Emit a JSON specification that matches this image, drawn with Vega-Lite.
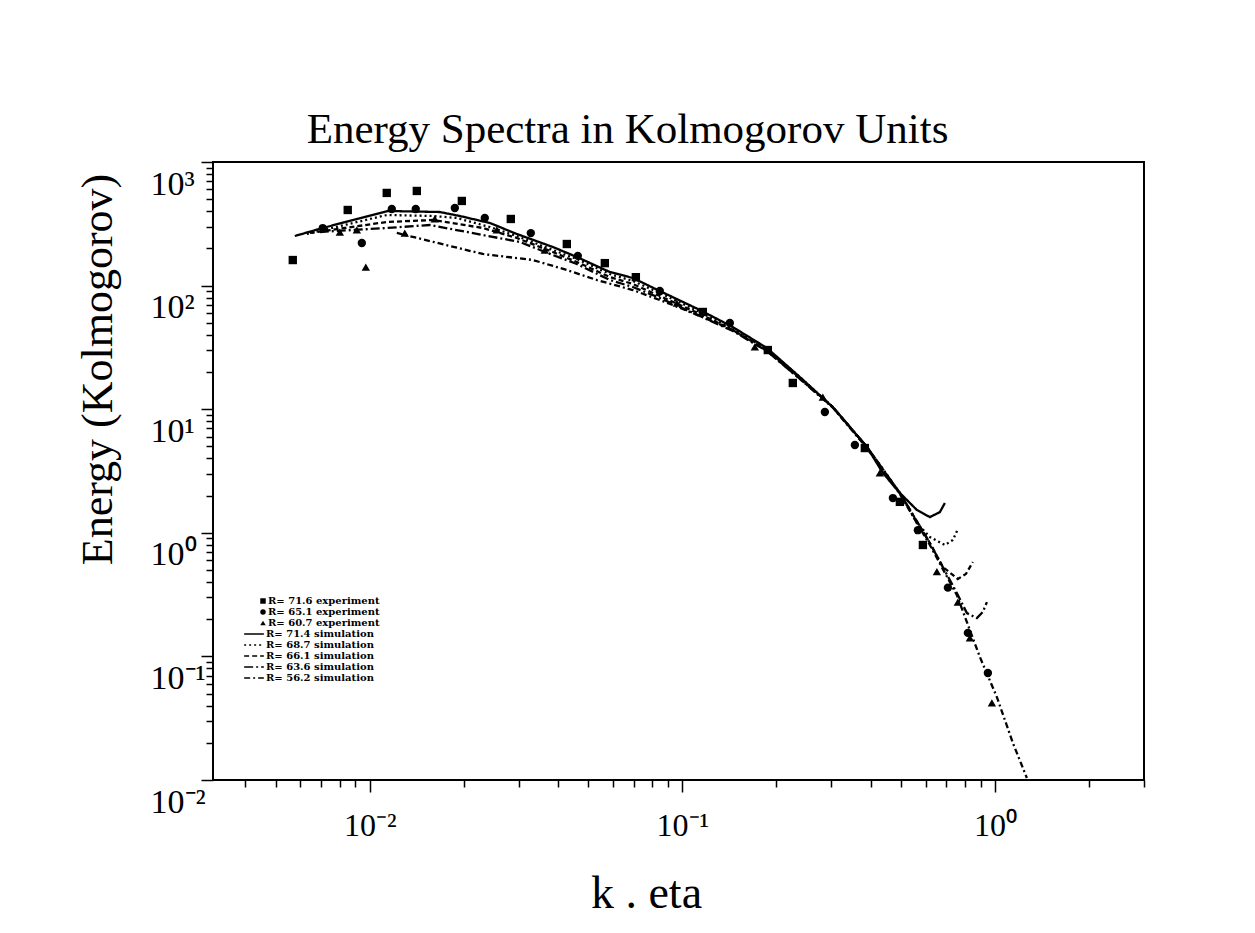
{
  "$schema": "https://vega.github.io/schema/vega-lite/v6.json",
  "width": 931,
  "height": 618,
  "autosize": {"type": "none"},
  "padding": {"left": 213, "top": 162, "right": 111, "bottom": 153},
  "background": "white",
  "title": {"text": "Energy Spectra in Kolmogorov Units", "font": "Liberation Serif", "fontSize": 43, "fontWeight": "normal", "color": "black", "anchor": "middle", "dx": -51, "offset": 9},
  "config": {
    "view": {"stroke": "black", "strokeWidth": 2},
    "axis": {"grid": false, "domain": false, "tickColor": "black", "tickWidth": 1.5, "labelColor": "black", "labelFont": "Liberation Serif", "labelFontSize": 34, "labelOverlap": false, "labelFlush": false, "labelBound": false, "titleFont": "Liberation Serif", "titleFontWeight": "normal", "titleColor": "black"},
    "legend": {"labelFont": "DejaVu Serif", "labelFontWeight": "bold", "labelFontSize": 10, "labelColor": "black", "padding": 0, "rowPadding": 1, "symbolOpacity": 1}
  },
  "datasets": {
    "sim": [
      {"k": 0.005754, "E": 251.9, "series": "R= 71.4 simulation"},
      {"k": 0.007071, "E": 292.5, "series": "R= 71.4 simulation"},
      {"k": 0.01142, "E": 401.4, "series": "R= 71.4 simulation"},
      {"k": 0.01675, "E": 393.9, "series": "R= 71.4 simulation"},
      {"k": 0.01941, "E": 365.7, "series": "R= 71.4 simulation"},
      {"k": 0.02421, "E": 321.0, "series": "R= 71.4 simulation"},
      {"k": 0.02954, "E": 261.6, "series": "R= 71.4 simulation"},
      {"k": 0.03851, "E": 205.3, "series": "R= 71.4 simulation"},
      {"k": 0.04597, "E": 170.4, "series": "R= 71.4 simulation"},
      {"k": 0.05861, "E": 128.8, "series": "R= 71.4 simulation"},
      {"k": 0.06944, "E": 115.2, "series": "R= 71.4 simulation"},
      {"k": 0.08472, "E": 90.4, "series": "R= 71.4 simulation"},
      {"k": 0.1138, "E": 63.5, "series": "R= 71.4 simulation"},
      {"k": 0.145, "E": 46.2, "series": "R= 71.4 simulation"},
      {"k": 0.1864, "E": 31.3, "series": "R= 71.4 simulation"},
      {"k": 0.2377, "E": 18.2, "series": "R= 71.4 simulation"},
      {"k": 0.303, "E": 10.4, "series": "R= 71.4 simulation"},
      {"k": 0.3895, "E": 4.95, "series": "R= 71.4 simulation"},
      {"k": 0.4381, "E": 3.05, "series": "R= 71.4 simulation"},
      {"k": 0.4966, "E": 2.1, "series": "R= 71.4 simulation"},
      {"k": 0.5629, "E": 1.53, "series": "R= 71.4 simulation"},
      {"k": 0.6194, "E": 1.34, "series": "R= 71.4 simulation"},
      {"k": 0.6668, "E": 1.47, "series": "R= 71.4 simulation"},
      {"k": 0.6918, "E": 1.74, "series": "R= 71.4 simulation"},

      {"k": 0.006287, "E": 261.6, "series": "R= 68.7 simulation"},
      {"k": 0.01133, "E": 372.6, "series": "R= 68.7 simulation"},
      {"k": 0.01591, "E": 365.7, "series": "R= 68.7 simulation"},
      {"k": 0.01898, "E": 352.3, "series": "R= 68.7 simulation"},
      {"k": 0.02421, "E": 298.0, "series": "R= 68.7 simulation"},
      {"k": 0.02954, "E": 251.9, "series": "R= 68.7 simulation"},
      {"k": 0.03851, "E": 194.1, "series": "R= 68.7 simulation"},
      {"k": 0.04597, "E": 164.1, "series": "R= 68.7 simulation"},
      {"k": 0.05861, "E": 124.1, "series": "R= 68.7 simulation"},
      {"k": 0.06944, "E": 109.0, "series": "R= 68.7 simulation"},
      {"k": 0.08472, "E": 87.1, "series": "R= 68.7 simulation"},
      {"k": 0.1138, "E": 61.2, "series": "R= 68.7 simulation"},
      {"k": 0.145, "E": 44.6, "series": "R= 68.7 simulation"},
      {"k": 0.1864, "E": 30.7, "series": "R= 68.7 simulation"},
      {"k": 0.2377, "E": 18.2, "series": "R= 68.7 simulation"},
      {"k": 0.303, "E": 10.4, "series": "R= 68.7 simulation"},
      {"k": 0.3895, "E": 4.95, "series": "R= 68.7 simulation"},
      {"k": 0.4966, "E": 2.1, "series": "R= 68.7 simulation"},
      {"k": 0.5629, "E": 1.2, "series": "R= 68.7 simulation"},
      {"k": 0.6194, "E": 0.925, "series": "R= 68.7 simulation"},
      {"k": 0.6918, "E": 0.797, "series": "R= 68.7 simulation"},
      {"k": 0.7337, "E": 0.874, "series": "R= 68.7 simulation"},
      {"k": 0.7611, "E": 1.07, "series": "R= 68.7 simulation"},

      {"k": 0.006427, "E": 266.5, "series": "R= 66.1 simulation"},
      {"k": 0.01133, "E": 327.0, "series": "R= 66.1 simulation"},
      {"k": 0.01591, "E": 339.4, "series": "R= 66.1 simulation"},
      {"k": 0.02299, "E": 292.5, "series": "R= 66.1 simulation"},
      {"k": 0.02954, "E": 242.7, "series": "R= 66.1 simulation"},
      {"k": 0.03851, "E": 187.0, "series": "R= 66.1 simulation"},
      {"k": 0.04597, "E": 155.2, "series": "R= 66.1 simulation"},
      {"k": 0.05861, "E": 117.4, "series": "R= 66.1 simulation"},
      {"k": 0.06944, "E": 103.0, "series": "R= 66.1 simulation"},
      {"k": 0.08472, "E": 82.4, "series": "R= 66.1 simulation"},
      {"k": 0.1138, "E": 58.9, "series": "R= 66.1 simulation"},
      {"k": 0.145, "E": 43.7, "series": "R= 66.1 simulation"},
      {"k": 0.1864, "E": 30.1, "series": "R= 66.1 simulation"},
      {"k": 0.2377, "E": 17.9, "series": "R= 66.1 simulation"},
      {"k": 0.303, "E": 10.4, "series": "R= 66.1 simulation"},
      {"k": 0.3895, "E": 4.95, "series": "R= 66.1 simulation"},
      {"k": 0.4966, "E": 2.1, "series": "R= 66.1 simulation"},
      {"k": 0.6194, "E": 0.827, "series": "R= 66.1 simulation"},
      {"k": 0.6818, "E": 0.529, "series": "R= 66.1 simulation"},
      {"k": 0.7611, "E": 0.423, "series": "R= 66.1 simulation"},
      {"k": 0.8077, "E": 0.464, "series": "R= 66.1 simulation"},
      {"k": 0.8502, "E": 0.58, "series": "R= 66.1 simulation"},

      {"k": 0.006918, "E": 271.5, "series": "R= 63.6 simulation"},
      {"k": 0.01133, "E": 292.5, "series": "R= 63.6 simulation"},
      {"k": 0.01556, "E": 309.3, "series": "R= 63.6 simulation"},
      {"k": 0.02299, "E": 256.7, "series": "R= 63.6 simulation"},
      {"k": 0.0302, "E": 225.3, "series": "R= 63.6 simulation"},
      {"k": 0.03851, "E": 176.8, "series": "R= 63.6 simulation"},
      {"k": 0.04597, "E": 149.6, "series": "R= 63.6 simulation"},
      {"k": 0.05861, "E": 111.0, "series": "R= 63.6 simulation"},
      {"k": 0.06944, "E": 97.4, "series": "R= 63.6 simulation"},
      {"k": 0.08472, "E": 79.4, "series": "R= 63.6 simulation"},
      {"k": 0.1138, "E": 56.8, "series": "R= 63.6 simulation"},
      {"k": 0.145, "E": 42.9, "series": "R= 63.6 simulation"},
      {"k": 0.1864, "E": 29.6, "series": "R= 63.6 simulation"},
      {"k": 0.2377, "E": 17.6, "series": "R= 63.6 simulation"},
      {"k": 0.303, "E": 10.4, "series": "R= 63.6 simulation"},
      {"k": 0.3895, "E": 4.95, "series": "R= 63.6 simulation"},
      {"k": 0.4966, "E": 2.1, "series": "R= 63.6 simulation"},
      {"k": 0.6194, "E": 0.827, "series": "R= 63.6 simulation"},
      {"k": 0.7555, "E": 0.326, "series": "R= 63.6 simulation"},
      {"k": 0.8137, "E": 0.224, "series": "R= 63.6 simulation"},
      {"k": 0.8758, "E": 0.204, "series": "R= 63.6 simulation"},
      {"k": 0.9154, "E": 0.229, "series": "R= 63.6 simulation"},
      {"k": 0.9428, "E": 0.275, "series": "R= 63.6 simulation"},

      {"k": 0.0122, "E": 266.5, "series": "R= 56.2 simulation"},
      {"k": 0.02299, "E": 180.2, "series": "R= 56.2 simulation"},
      {"k": 0.03323, "E": 161.2, "series": "R= 56.2 simulation"},
      {"k": 0.0427, "E": 133.7, "series": "R= 56.2 simulation"},
      {"k": 0.05325, "E": 111.0, "series": "R= 56.2 simulation"},
      {"k": 0.06944, "E": 92.1, "series": "R= 56.2 simulation"},
      {"k": 0.09324, "E": 69.7, "series": "R= 56.2 simulation"},
      {"k": 0.1289, "E": 49.8, "series": "R= 56.2 simulation"},
      {"k": 0.145, "E": 43.7, "series": "R= 56.2 simulation"},
      {"k": 0.1864, "E": 29.6, "series": "R= 56.2 simulation"},
      {"k": 0.2377, "E": 17.6, "series": "R= 56.2 simulation"},
      {"k": 0.303, "E": 10.3, "series": "R= 56.2 simulation"},
      {"k": 0.3895, "E": 4.85, "series": "R= 56.2 simulation"},
      {"k": 0.4966, "E": 2.06, "series": "R= 56.2 simulation"},
      {"k": 0.6194, "E": 0.797, "series": "R= 56.2 simulation"},
      {"k": 0.7555, "E": 0.314, "series": "R= 56.2 simulation"},
      {"k": 0.8954, "E": 0.0989, "series": "R= 56.2 simulation"},
      {"k": 1.0148, "E": 0.0469, "series": "R= 56.2 simulation"},
      {"k": 1.142, "E": 0.0199, "series": "R= 56.2 simulation"},
      {"k": 1.266, "E": 0.01038, "series": "R= 56.2 simulation"}
    ],
    "exp": [
      {"k": 0.00567, "E": 161, "series": "R= 71.6 experiment"},
      {"k": 0.0085, "E": 409, "series": "R= 71.6 experiment"},
      {"k": 0.01133, "E": 562, "series": "R= 71.6 experiment"},
      {"k": 0.01414, "E": 583, "series": "R= 71.6 experiment"},
      {"k": 0.0197, "E": 484, "series": "R= 71.6 experiment"},
      {"k": 0.02826, "E": 346, "series": "R= 71.6 experiment"},
      {"k": 0.0427, "E": 217, "series": "R= 71.6 experiment"},
      {"k": 0.0565, "E": 152, "series": "R= 71.6 experiment"},
      {"k": 0.071, "E": 117, "series": "R= 71.6 experiment"},
      {"k": 0.1163, "E": 61.2, "series": "R= 71.6 experiment"},
      {"k": 0.1877, "E": 30.1, "series": "R= 71.6 experiment"},
      {"k": 0.2257, "E": 16.3, "series": "R= 71.6 experiment"},
      {"k": 0.3837, "E": 4.85, "series": "R= 71.6 experiment"},
      {"k": 0.4966, "E": 1.78, "series": "R= 71.6 experiment"},
      {"k": 0.5884, "E": 0.797, "series": "R= 71.6 experiment"},

      {"k": 0.00707, "E": 292, "series": "R= 65.1 experiment"},
      {"k": 0.00943, "E": 221, "series": "R= 65.1 experiment"},
      {"k": 0.01176, "E": 417, "series": "R= 65.1 experiment"},
      {"k": 0.01403, "E": 417, "series": "R= 65.1 experiment"},
      {"k": 0.01871, "E": 424, "series": "R= 65.1 experiment"},
      {"k": 0.02333, "E": 352, "series": "R= 65.1 experiment"},
      {"k": 0.03275, "E": 266, "series": "R= 65.1 experiment"},
      {"k": 0.0463, "E": 174, "series": "R= 65.1 experiment"},
      {"k": 0.0847, "E": 90.4, "series": "R= 65.1 experiment"},
      {"k": 0.1419, "E": 49.8, "series": "R= 65.1 experiment"},
      {"k": 0.2858, "E": 9.49, "series": "R= 65.1 experiment"},
      {"k": 0.3565, "E": 5.13, "series": "R= 65.1 experiment"},
      {"k": 0.4717, "E": 1.91, "series": "R= 65.1 experiment"},
      {"k": 0.5671, "E": 1.05, "series": "R= 65.1 experiment"},
      {"k": 0.7074, "E": 0.36, "series": "R= 65.1 experiment"},
      {"k": 0.8197, "E": 0.155, "series": "R= 65.1 experiment"},
      {"k": 0.9497, "E": 0.0734, "series": "R= 65.1 experiment"},

      {"k": 0.00802, "E": 271, "series": "R= 60.7 experiment"},
      {"k": 0.00909, "E": 282, "series": "R= 60.7 experiment"},
      {"k": 0.00971, "E": 141, "series": "R= 60.7 experiment"},
      {"k": 0.01294, "E": 266, "series": "R= 60.7 experiment"},
      {"k": 0.01614, "E": 346, "series": "R= 60.7 experiment"},
      {"k": 0.02549, "E": 282, "series": "R= 60.7 experiment"},
      {"k": 0.03631, "E": 194, "series": "R= 60.7 experiment"},
      {"k": 0.096, "E": 72.3, "series": "R= 60.7 experiment"},
      {"k": 0.1706, "E": 31.9, "series": "R= 60.7 experiment"},
      {"k": 0.2815, "E": 12.55, "series": "R= 60.7 experiment"},
      {"k": 0.4285, "E": 3.05, "series": "R= 60.7 experiment"},
      {"k": 0.6523, "E": 0.485, "series": "R= 60.7 experiment"},
      {"k": 0.7611, "E": 0.275, "series": "R= 60.7 experiment"},
      {"k": 0.8318, "E": 0.141, "series": "R= 60.7 experiment"},
      {"k": 0.9781, "E": 0.042, "series": "R= 60.7 experiment"}
    ]
  },
  "layer": [
    {
      "data": {"name": "sim"},
      "mark": {"type": "line", "color": "black", "strokeWidth": 2.3, "clip": true},
      "encoding": {
        "x": {
          "field": "k", "type": "quantitative",
          "scale": {"type": "log", "domain": [0.00315, 3]},
          "axis": {
            "title": "k . eta",
            "titleFontSize": 46,
            "values": [0.004, 0.005, 0.006, 0.007, 0.008, 0.009, 0.01, 0.02, 0.03, 0.04, 0.05, 0.06, 0.07, 0.08, 0.09, 0.1, 0.2, 0.3, 0.4, 0.5, 0.6, 0.7, 0.8, 0.9, 1, 2, 3],
            "labelExpr": "datum.value == 0.01 ? '10⁻²' : datum.value == 0.1 ? '10⁻¹' : datum.value == 1 ? '10⁰' : ''",
            "tickSize": {"condition": {"test": "indexof([0.01, 0.1, 1], datum.value) >= 0", "value": 12}, "value": 7},
            "labelFontSize": 32,
            "labelBaseline": "top",
            "labelPadding": 18,
            "titleX": 433,
            "titleY": 113,
            "titleBaseline": "middle",
            "titleAlign": "center"
          }
        },
        "y": {
          "field": "E", "type": "quantitative",
          "scale": {"type": "log", "domain": [0.01, 1000]},
          "axis": {
            "title": "Energy (Kolmogorov)",
            "titleFontSize": 44,
            "values": [0.01, 0.02, 0.03, 0.04, 0.05, 0.06, 0.07, 0.08, 0.09, 0.1, 0.2, 0.3, 0.4, 0.5, 0.6, 0.7, 0.8, 0.9, 1, 2, 3, 4, 5, 6, 7, 8, 9, 10, 20, 30, 40, 50, 60, 70, 80, 90, 100, 200, 300, 400, 500, 600, 700, 800, 900, 1000],
            "labelExpr": "datum.value == 1000 ? '10³' : datum.value == 100 ? '10²' : datum.value == 10 ? '10¹' : datum.value == 1 ? '10⁰' : datum.value == 0.1 ? '10⁻¹' : datum.value == 0.01 ? '10⁻²' : ''",
            "tickSize": {"condition": {"test": "indexof([0.01, 0.1, 1, 10, 100, 1000], datum.value) >= 0", "value": 12}, "value": 7},
            "labelAlign": "left",
            "labelBaseline": "middle",
            "labelOffset": 22,
            "labelPadding": 51,
            "titleX": -115,
            "titleY": 207,
            "titleBaseline": "middle",
            "titleAlign": "center",
            "titleAngle": -90
          }
        },
        "strokeDash": {
          "field": "series", "type": "nominal",
          "scale": {
            "domain": ["R= 71.4 simulation", "R= 68.7 simulation", "R= 66.1 simulation", "R= 63.6 simulation", "R= 56.2 simulation"],
            "range": [[1, 0], [2, 3], [5, 3], [9, 3, 2, 3], [6, 3, 2, 3]]
          },
          "legend": {
            "orient": "none", "legendX": 36, "legendY": 467, "title": null,
            "symbolType": "M-3.6,0H3.6", "symbolSize": 30, "symbolStrokeWidth": 1.5, "symbolStrokeColor": "black",
            "labelOffset": 7
          }
        }
      }
    },
    {
      "data": {"name": "exp"},
      "mark": {"type": "point", "filled": true, "color": "black", "opacity": 1, "size": 70},
      "encoding": {
        "x": {"field": "k", "type": "quantitative", "scale": {"type": "log", "domain": [0.00315, 3]}},
        "y": {"field": "E", "type": "quantitative", "scale": {"type": "log", "domain": [0.01, 1000]}},
        "shape": {
          "field": "series", "type": "nominal",
          "scale": {
            "domain": ["R= 71.6 experiment", "R= 65.1 experiment", "R= 60.7 experiment"],
            "range": ["square", "circle", "triangle-up"]
          },
          "legend": {
            "orient": "none", "legendX": 45, "legendY": 434, "title": null,
            "symbolSize": 30, "symbolFillColor": "black", "symbolStrokeColor": "black",
            "rowPadding": -1, "labelOffset": 0
          }
        }
      }
    }
  ]
}
